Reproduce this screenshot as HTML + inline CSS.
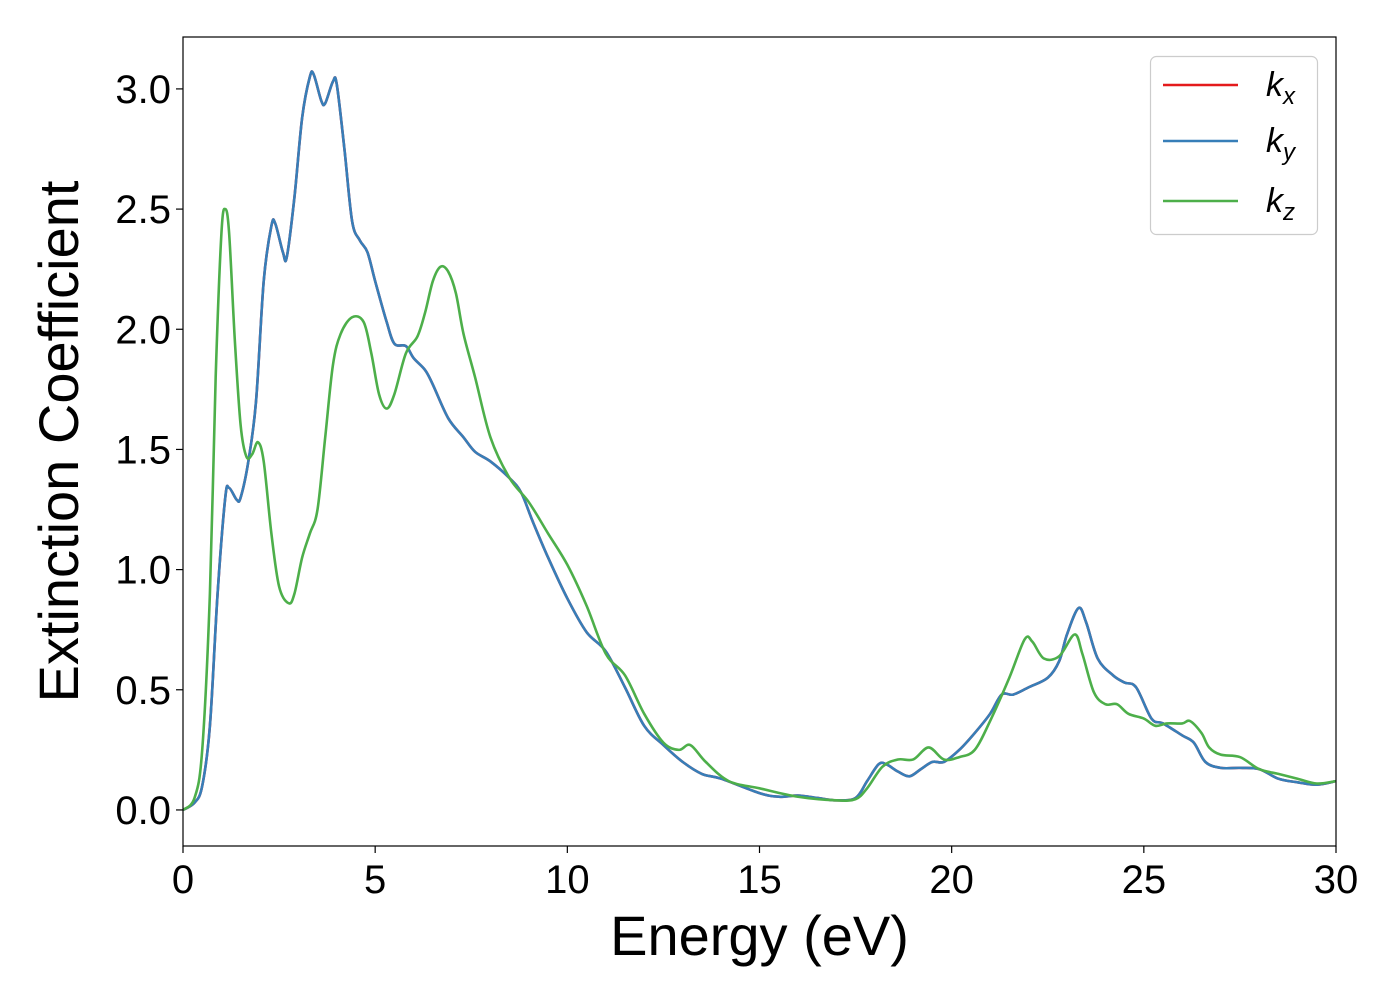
<!DOCTYPE html>
<html><head><meta charset="utf-8"><style>
html,body{margin:0;padding:0;background:#fff;}
svg{display:block;font-family:"Liberation Sans","DejaVu Sans",sans-serif;}
</style></head><body>
<svg id="chart" width="1400" height="1000" viewBox="0 0 1400 1000">
<g id="plot"></g>
</svg>
<script>
const xTicks=[0,5,10,15,20,25,30];
const yTicks=[0.0,0.5,1.0,1.5,2.0,2.5,3.0];
const xyE=[0,0.3,0.5,0.7,0.9,1.1,1.2,1.4,1.5,1.7,1.9,2.1,2.3,2.4,2.6,2.7,2.9,3.1,3.3,3.4,3.6,3.7,3.9,4.0,4.2,4.4,4.6,4.8,5.0,5.3,5.5,5.8,6.0,6.3,6.5,6.9,7.3,7.6,8.0,8.5,8.8,9.1,9.5,10.0,10.5,11.0,11.5,12.0,12.5,13.0,13.5,14.0,15.0,15.5,16.0,16.5,17.0,17.5,17.8,18.1,18.3,18.6,18.9,19.2,19.5,19.8,20.2,20.6,21.0,21.3,21.6,22.0,22.5,22.8,23.0,23.3,23.5,23.8,24.2,24.5,24.8,25.2,25.5,26.0,26.3,26.6,27.0,27.5,28.0,28.5,29.0,29.5,30];
const kx=[0,0.03,0.1,0.35,0.9,1.3,1.34,1.29,1.3,1.45,1.7,2.2,2.43,2.44,2.32,2.3,2.55,2.88,3.05,3.06,2.95,2.94,3.03,3.02,2.75,2.45,2.37,2.32,2.2,2.03,1.94,1.93,1.88,1.83,1.77,1.63,1.55,1.49,1.45,1.38,1.32,1.2,1.05,0.88,0.74,0.66,0.51,0.35,0.27,0.2,0.15,0.13,0.07,0.055,0.06,0.05,0.04,0.05,0.12,0.19,0.19,0.16,0.14,0.17,0.2,0.2,0.25,0.32,0.4,0.48,0.48,0.51,0.55,0.62,0.73,0.84,0.78,0.63,0.56,0.53,0.51,0.38,0.36,0.31,0.28,0.2,0.175,0.175,0.17,0.13,0.115,0.105,0.12];
const ky=kx.slice();
const zE=[0,0.3,0.5,0.7,0.85,1.0,1.1,1.2,1.35,1.5,1.65,1.8,1.95,2.1,2.3,2.5,2.75,2.9,3.1,3.3,3.5,3.7,3.9,4.1,4.4,4.7,4.9,5.1,5.3,5.5,5.8,6.1,6.3,6.5,6.7,6.9,7.1,7.3,7.6,8.0,8.5,9.0,9.5,10.0,10.5,11.0,11.5,12.0,12.5,12.9,13.2,13.6,14.2,15.0,16.0,17.0,17.5,17.8,18.2,18.6,19.0,19.4,19.8,20.2,20.6,21.0,21.5,21.9,22.1,22.4,22.8,23.2,23.4,23.7,24.0,24.3,24.6,25.0,25.3,25.6,26.0,26.2,26.5,26.7,27.0,27.5,28.0,28.5,29.0,29.5,30];
const kz=[0,0.05,0.25,0.9,1.8,2.4,2.5,2.4,1.95,1.6,1.47,1.48,1.53,1.45,1.15,0.93,0.86,0.9,1.05,1.15,1.25,1.55,1.85,1.98,2.05,2.03,1.9,1.73,1.67,1.73,1.9,1.97,2.07,2.2,2.26,2.24,2.15,1.98,1.8,1.55,1.38,1.28,1.15,1.02,0.85,0.65,0.56,0.4,0.28,0.25,0.27,0.2,0.12,0.09,0.055,0.04,0.045,0.09,0.18,0.21,0.21,0.26,0.21,0.22,0.25,0.37,0.55,0.71,0.7,0.63,0.64,0.73,0.65,0.49,0.44,0.44,0.4,0.38,0.35,0.36,0.36,0.37,0.32,0.26,0.23,0.22,0.17,0.15,0.13,0.11,0.12];

const L=183,R=1336,T=37,B=846;
const xMin=0,xMax=30,yMin=-0.15,yMax=3.216;
const sx=v=>L+(v-xMin)/(xMax-xMin)*(R-L);
const sy=v=>B-(v-yMin)/(yMax-yMin)*(B-T);
const NS="http://www.w3.org/2000/svg";
const svg=document.getElementById('chart');
function mk(tag,attrs,parent){const e=document.createElementNS(NS,tag);for(const k in attrs)e.setAttribute(k,attrs[k]);(parent||svg).appendChild(e);return e;}

function smoothPath(xs,ys){
  const p=xs.map((x,i)=>[sx(x),sy(ys[i])]);
  let d=`M${p[0][0]},${p[0][1]}`;
  for(let i=0;i<p.length-1;i++){
    const p0=p[i-1]||p[i],p1=p[i],p2=p[i+1],p3=p[i+2]||p2;
    const c1=[p1[0]+(p2[0]-p0[0])/6,p1[1]+(p2[1]-p0[1])/6];
    const c2=[p2[0]-(p3[0]-p1[0])/6,p2[1]-(p3[1]-p1[1])/6];
    d+=` C${c1[0]},${c1[1]} ${c2[0]},${c2[1]} ${p2[0]},${p2[1]}`;
  }
  return d;
}
const defs=mk('defs',{});
const cp=mk('clipPath',{id:'clip'},defs);
mk('rect',{x:L,y:T,width:R-L,height:B-T},cp);
const g=document.getElementById('plot');
g.setAttribute('clip-path','url(#clip)');

const lx=mk('path',{d:smoothPath(xyE,kx),fill:'none',stroke:'#e41a1c','stroke-width':2.6},g);


const ly=mk('path',{d:smoothPath(xyE,ky),fill:'none',stroke:'#377eb8','stroke-width':2.6},g);


const lz=mk('path',{d:smoothPath(zE,kz),fill:'none',stroke:'#4daf4a','stroke-width':2.6},g);



const frame=mk('rect',{x:L,y:T,width:R-L,height:B-T,fill:'none',stroke:'#000','stroke-width':1.2});



xTicks.forEach(v=>{
  const t=mk('line',{x1:sx(v),x2:sx(v),y1:B,y2:B+7,stroke:'#000','stroke-width':1.2});
  
  
  const tx=mk('text',{x:sx(v),y:B+47,'text-anchor':'middle','font-size':40});
  tx.textContent=String(v);
  
  
});
yTicks.forEach(v=>{
  const t=mk('line',{x1:L-7,x2:L,y1:sy(v),y2:sy(v),stroke:'#000','stroke-width':1.2});
  
  
  const tx=mk('text',{x:L-12,y:sy(v)+14,'text-anchor':'end','font-size':40});
  tx.textContent=v.toFixed(1);
  
  
});
const xt=mk('text',{x:(L+R)/2,y:955,'text-anchor':'middle','font-size':56});
xt.textContent='Energy (eV)';


const yt=mk('text',{x:0,y:0,'text-anchor':'middle','font-size':56,transform:`translate(78,${(T+B)/2}) rotate(-90)`});
yt.textContent='Extinction Coefficient';



const lg=mk('g',{});


mk('rect',{x:1150.5,y:56.5,width:167,height:178,rx:6,fill:'#fff','fill-opacity':0.8,stroke:'#ccc','stroke-width':1.2},lg);
const legs=[['#e41a1c','x',85],['#377eb8','y',141],['#4daf4a','z',201]];
legs.forEach(([c,s,y])=>{
  const e=mk('g',{},lg);
  
  
  mk('line',{x1:1163,x2:1238,y1:y,y2:y,stroke:c,'stroke-width':2.6},e);
  const t=mk('text',{x:1266,y:y+11,'font-size':34,'font-style':'italic'},e);
  t.innerHTML=`k<tspan font-size="24" dy="8">${s}</tspan>`;
});
</script>
</body></html>
